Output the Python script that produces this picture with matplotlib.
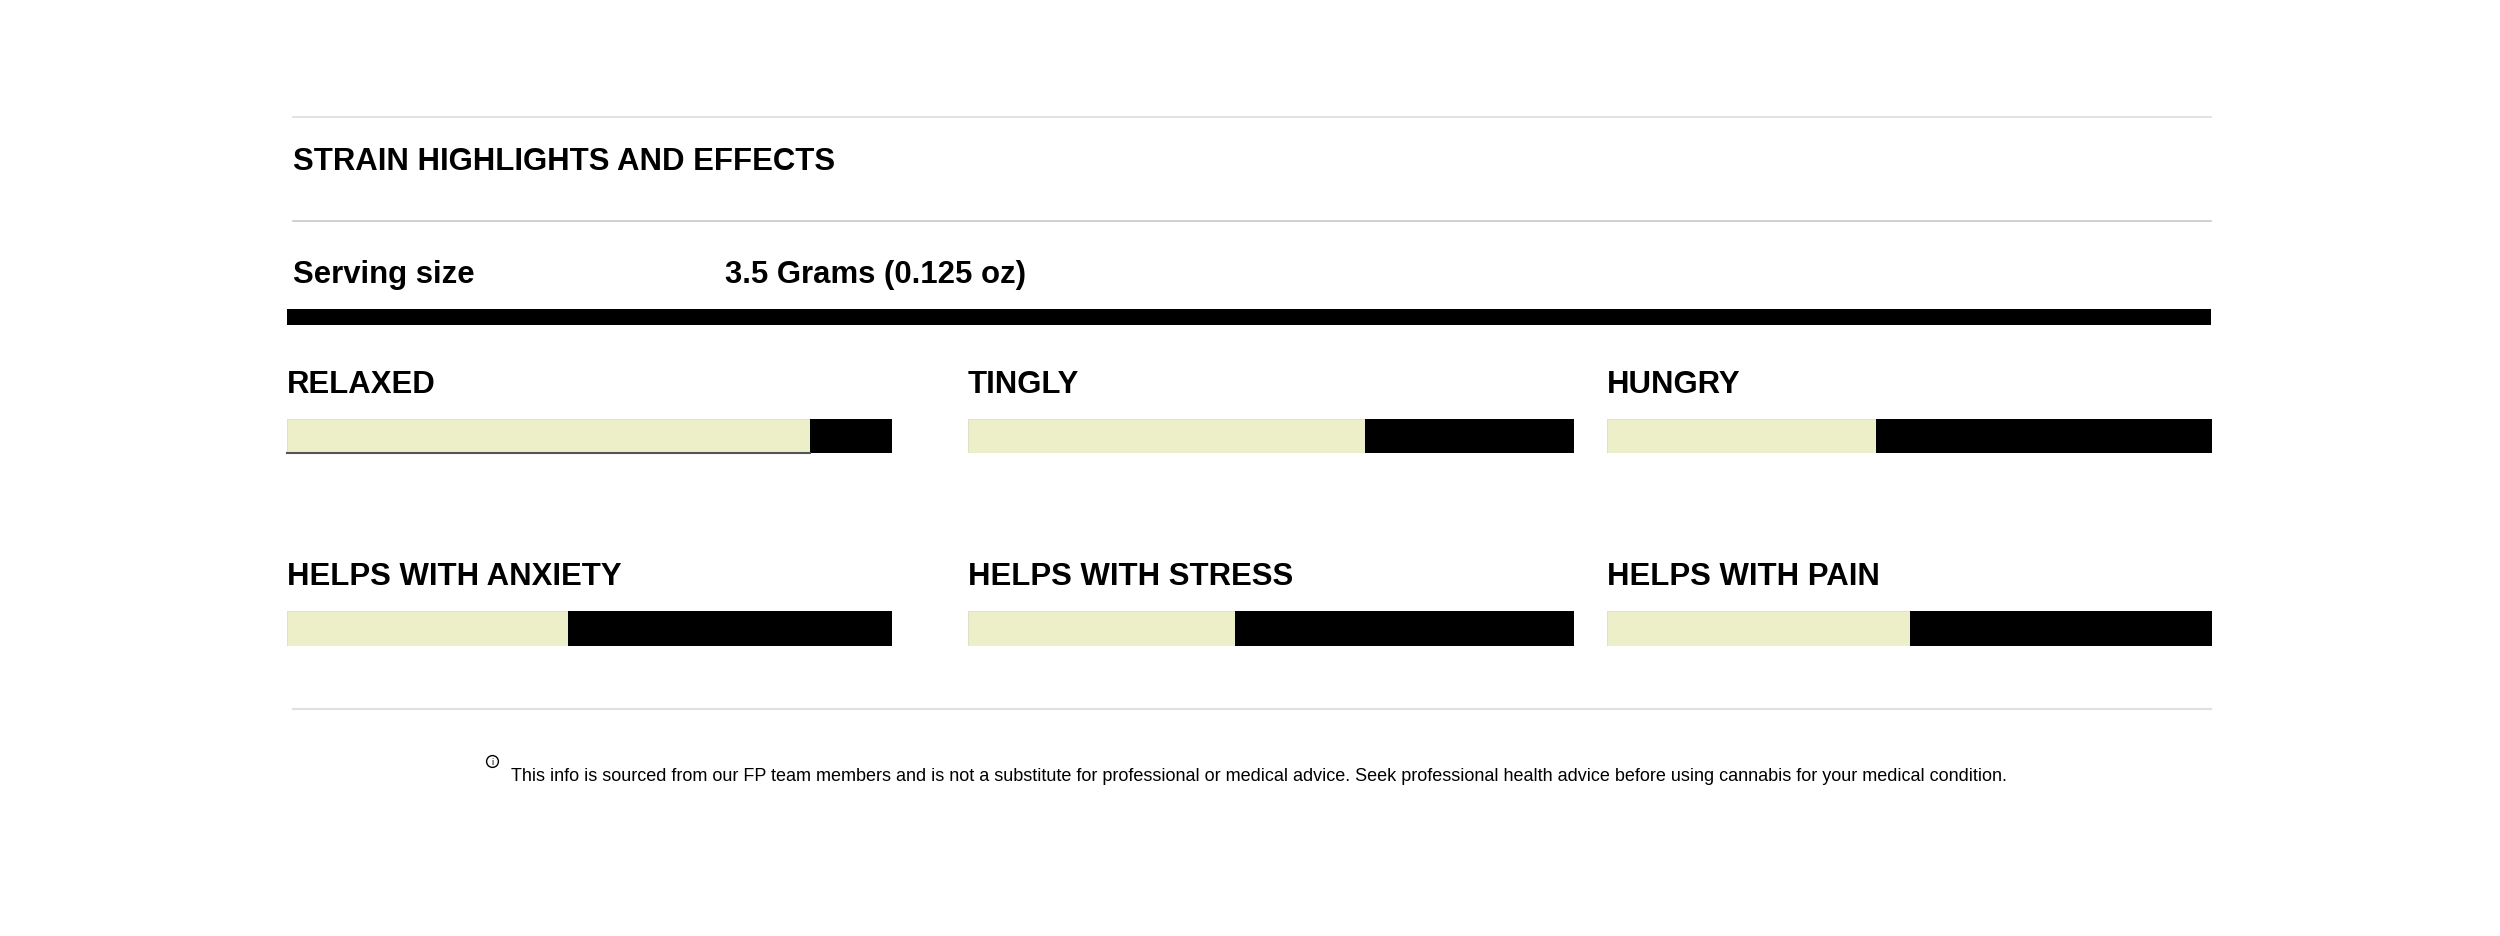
import matplotlib
matplotlib.use("Agg")
import matplotlib.pyplot as plt
from matplotlib import font_manager

# ---------------- data ----------------
effects = ["RELAXED", "TINGLY", "HUNGRY",
           "HELPS WITH ANXIETY", "HELPS WITH STRESS", "HELPS WITH PAIN"]
levels = [0.865, 0.655, 0.445, 0.465, 0.44, 0.50]
title = "STRAIN HIGHLIGHTS AND EFFECTS"
serving_label = "Serving size"
serving_value = "3.5 Grams (0.125 oz)"
footnote = ("This info is sourced from our FP team members and is not a substitute for "
            "professional or medical advice. Seek professional health advice before using "
            "cannabis for your medical condition.")

W, H = 2500, 937
LIGHT = "#EDEFC8"
DARK = "#000000"

names = {f.name for f in font_manager.fontManager.ttflist}
MAIN = "Liberation Sans" if "Liberation Sans" in names else "DejaVu Sans"
NARROW = "Liberation Sans Narrow" if "Liberation Sans Narrow" in names else MAIN
FS = 22.4

fig = plt.figure(figsize=(W / 100, H / 100), dpi=100)
bg = fig.add_axes([0, 0, 1, 1])
bg.set_xlim(0, W)
bg.set_ylim(H, 0)
bg.axis("off")

# header lines
bg.plot([293, 2211], [117.5, 117.5], color="#dcdcdc", lw=1.2)
bg.plot([293, 2211], [221.5, 221.5], color="#c8c8c8", lw=1.2)
bg.plot([293, 2211], [709.5, 709.5], color="#e0e0e0", lw=1.5)
# thick black rule
bg.add_patch(plt.Rectangle((287, 310), 2211 - 287, 16, color="black", lw=0))

bg.text(293, 162, title, fontsize=FS, fontweight="bold", family=MAIN,
        va="center", ha="left")
bg.text(293, 275, serving_label, fontsize=FS, fontweight="bold", family=MAIN,
        va="center", ha="left")
bg.text(725, 275, serving_value, fontsize=FS, fontweight="bold", family=MAIN,
        va="center", ha="left")

# footnote with info icon
bg.plot([492], [762], marker="o", ms=8.5, mfc="white", mec="black", mew=1.0)
bg.text(492, 762.5, "i", fontsize=6.5, family=MAIN, ha="center", va="center")
bg.text(511, 777, footnote, fontsize=13, family=NARROW, ha="left", va="center")

# effect bars
cols = [(287, 892), (968, 1574), (1607, 2212)]
rows = [(420, 454), (612, 647)]
for i, (name, val) in enumerate(zip(effects, levels)):
    x0, x1 = cols[i % 3]
    y0, y1 = rows[i // 3]
    ax = fig.add_axes([x0 / W, 1 - y1 / H, (x1 - x0) / W, (y1 - y0) / H])
    ax.barh([0], [val], left=0, height=1, color=LIGHT, edgecolor="#dcdcc4", lw=0.6)
    ax.barh([0], [1 - val], left=val, height=1, color=DARK, lw=0)
    if i == 0:
        ax.plot([0, val], [-0.5, -0.5], color="#555555", lw=1.5, clip_on=False)
    ax.set_xlim(0, 1)
    ax.set_ylim(-0.5, 0.5)
    ax.axis("off")
    bg.text(x0, y0 - 35, name, fontsize=FS, fontweight="bold", family=MAIN,
            ha="left", va="center")

fig.savefig("out.png", dpi=100, facecolor="white")
